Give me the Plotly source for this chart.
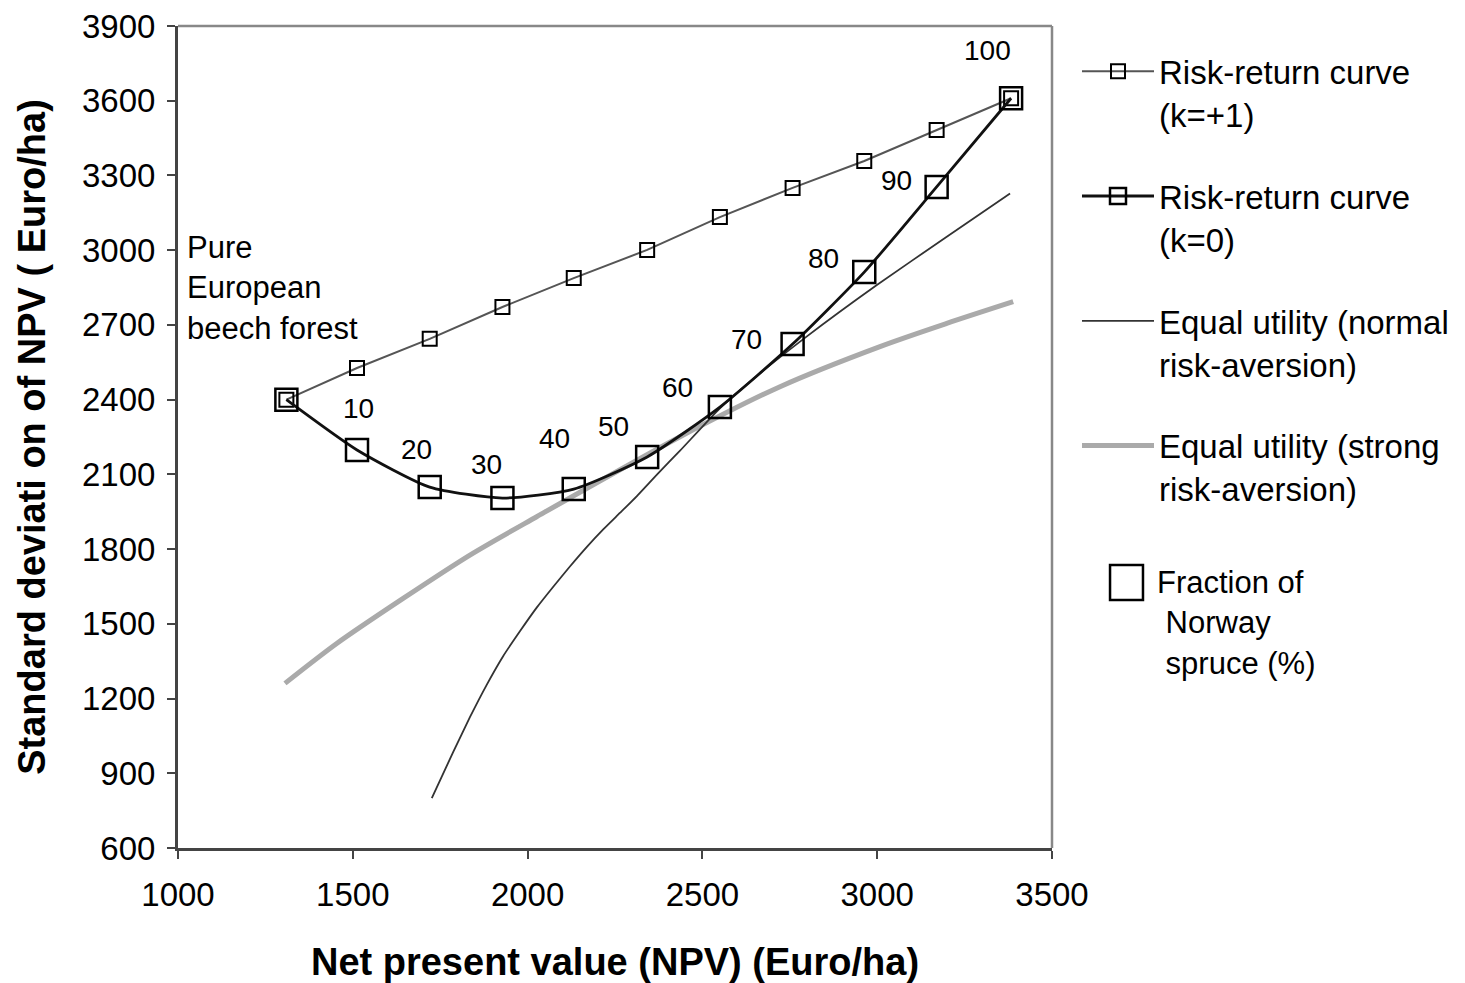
import plotly.graph_objects as go

# ---------------- data ----------------
npv = [1310, 1512, 1720, 1928, 2132, 2342, 2550, 2758, 2963, 3170, 3383]
sd_k1 = [2400, 2527, 2644, 2772, 2888, 3001, 3133, 3250, 3358, 3482, 3610]
sd_k0 = [2400, 2198, 2049, 2005, 2041, 2170, 2370, 2623, 2912, 3254, 3610]
fraction_labels = ["", "10", "20", "30", "40", "50", "60", "70", "80", "90", "100"]

normal_x = [1726, 1787, 1835, 1883, 1930, 1978, 2026, 2074, 2121, 2169, 2217, 2264, 2312,
            2374, 2436, 2550, 2660, 2798, 2999, 3199, 3380]
normal_y = [800, 985, 1125, 1255, 1370, 1470, 1565, 1650, 1730, 1808, 1880, 1945, 2012,
            2105, 2195, 2365, 2500, 2653, 2860, 3054, 3228]

strong_x = [1306, 1454, 1644, 1835, 2026, 2436, 2722, 3008, 3199, 3389]
strong_y = [1261, 1421, 1602, 1776, 1930, 2251, 2452, 2613, 2706, 2793]

x_ticks = [1000, 1500, 2000, 2500, 3000, 3500]
y_ticks = [600, 900, 1200, 1500, 1800, 2100, 2400, 2700, 3000, 3300, 3600, 3900]

# label offsets in pixels (style only)
label_dx = [0, 1, -13, -16, -19, -34, -42, -46, -41, -40, -24]
label_dy = [0, 41, 38, 34, 51, 30, 20, 5, 14, 6, 48]

FONT = "Liberation Sans, Arial, sans-serif"

fig = go.Figure()

fig.add_trace(go.Scatter(
    x=strong_x, y=strong_y, mode="lines",
    line=dict(color="#aaaaaa", width=5, shape="spline", smoothing=0.8),
    name="Equal utility (strong<br>risk-aversion)", legendgroup="d", legendrank=4))
fig.add_trace(go.Scatter(
    x=normal_x, y=normal_y, mode="lines",
    line=dict(color="#333333", width=1.8, shape="spline", smoothing=0.5),
    name="Equal utility (normal<br>risk-aversion)", legendgroup="c", legendrank=3))
fig.add_trace(go.Scatter(
    x=npv, y=sd_k1, mode="lines+markers", line=dict(color="#555555", width=2),
    marker=dict(symbol="square-open", size=14, color="black", line=dict(width=2, color="black")),
    name="Risk-return curve<br>(k=+1)", legendgroup="a", legendrank=1))
fig.add_trace(go.Scatter(
    x=npv, y=sd_k0, mode="lines+markers",
    line=dict(color="#111111", width=2.8, shape="spline", smoothing=0.6),
    marker=dict(symbol="square-open", size=22, color="black", line=dict(width=2.5, color="black")),
    name="Risk-return curve<br>(k=0)", legendgroup="b", legendrank=2))

for xi, yi, lab, dx, dy in zip(npv, sd_k0, fraction_labels, label_dx, label_dy):
    if lab:
        fig.add_annotation(x=xi, y=yi, text=lab, showarrow=False, xshift=dx, yshift=dy,
                           font=dict(family=FONT, size=28, color="black"))

fig.add_annotation(x=1020, y=2848, xref="x", yref="y", text="Pure<br>European<br>beech forest",
                   showarrow=False, xanchor="left", yanchor="middle", align="left",
                   font=dict(family=FONT, size=31, color="black"))

# fraction legend note
fig.add_shape(type="rect", xref="paper", yref="paper", x0=1.0664, x1=1.1041, y0=0.3017, y1=0.3443,
              line=dict(color="black", width=2.5), fillcolor="white")
fig.add_annotation(xref="paper", yref="paper", x=1.1178, y=0.3467, xanchor="left", yanchor="top",
                   align="left", showarrow=False,
                   text="Fraction of<br>\u00a0Norway<br>\u00a0spruce (%)",
                   font=dict(family=FONT, size=31, color="black"))

# frame top/right
fig.add_shape(type="line", xref="x domain", yref="y domain", x0=0, x1=1, y0=1, y1=1,
              line=dict(color="#888888", width=2.5))
fig.add_shape(type="line", xref="x domain", yref="y domain", x0=1, x1=1, y0=0, y1=1,
              line=dict(color="#888888", width=2.5))
# thin pale strip at right edge
fig.add_shape(type="rect", xref="paper", yref="paper", x0=1.4675, x1=1.49, y0=-0.2, y1=1.05,
              line=dict(width=0), fillcolor="#fffbd6", layer="below")

# the page body has an 8px margin, so the figure is 8px smaller and margins shifted
fig.update_layout(
    width=1457, height=975,
    margin=dict(l=170, r=413, t=18, b=135, autoexpand=False),
    paper_bgcolor="white", plot_bgcolor="white",
    font=dict(family=FONT, color="black"),
    showlegend=True,
    legend=dict(x=1.0286, y=0.979, xanchor="left", yanchor="top", valign="top",
                font=dict(family=FONT, size=33, color="black"),
                itemwidth=72, tracegroupgap=36, bgcolor="rgba(0,0,0,0)",
                traceorder="grouped", itemclick=False),
    xaxis=dict(range=[1000, 3500], tickvals=x_ticks, ticktext=[str(v) for v in x_ticks],
               ticks="outside", ticklen=8, tickwidth=2, tickcolor="#444", automargin=False,
               showline=True, linecolor="#444", linewidth=3, showgrid=False, zeroline=False,
               tickfont=dict(family=FONT, size=33), ticklabelstandoff=7, ticklabeloverflow="allow",
               title=dict(text="<b>Net present value (NPV) (Euro/ha)</b>", standoff=38,
                          font=dict(family=FONT, size=38))),
    yaxis=dict(range=[600, 3900], tickvals=y_ticks, ticktext=[str(v) for v in y_ticks],
               ticks="outside", ticklen=8, tickwidth=2, tickcolor="#444", automargin=False,
               showline=True, linecolor="#444", linewidth=3, showgrid=False, zeroline=False,
               tickfont=dict(family=FONT, size=33), ticklabelstandoff=5, ticklabeloverflow="allow",
               title=dict(text="<b>Standard deviati on of NPV ( Euro/ha)</b>", standoff=25,
                          font=dict(family=FONT, size=38))),
)

fig.write_html("out.html")
